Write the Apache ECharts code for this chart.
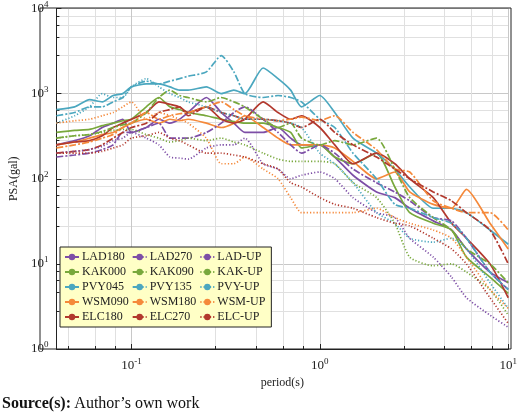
<!DOCTYPE html>
<html><head><meta charset="utf-8">
<script src="https://cdn.jsdelivr.net/npm/echarts@6/dist/echarts.min.js"></script>
<style>html,body{margin:0;background:#fff}#c{width:520px;height:419px}</style></head>
<body><div id="c"></div>
<script>
const P = [0.04,0.05,0.06,0.07,0.08,0.09,0.1,0.12,0.14,0.16,0.18,0.2,0.25,0.3,0.35,0.4,0.5,0.6,0.7,0.8,1,1.2,1.5,2,2.5,3,4,5,6,8,10];
const LAD180 = [250,280,320,400,450,500,350,400,500,450,500,600,900,600,450,350,350,400,300,250,250,180,110,70,60,45,32,25,15,8,6];
const LAD270 = [180,190,200,220,250,350,350,400,450,300,300,300,350,450,600,700,500,350,250,200,250,200,130,90,70,55,35,32,20,8,5];
const LADUP = [200,210,220,240,280,300,350,300,250,180,175,170,230,250,250,300,150,130,100,110,120,100,60,40,35,20,12,7,4,2.5,1.8];
const KAK000 = [350,370,380,420,450,480,500,700,900,700,650,600,550,500,470,450,450,400,350,230,250,180,150,200,80,40,30,25,12,7,4.5];
const KAK090 = [300,320,330,360,400,430,450,600,900,1100,950,900,800,900,800,700,500,400,450,300,250,280,250,300,130,60,35,25,15,10,6];
const KAKUP = [300,320,330,350,370,380,380,330,300,270,280,300,280,300,270,250,200,170,160,160,160,150,90,60,30,12,9.5,10,8,5,2.5];
const PVY045 = [650,700,850,800,950,1000,1200,1300,1300,1200,1100,1100,1200,1000,1100,1000,2000,1500,1100,700,950,600,300,200,130,80,45,45,40,25,17];
const PVY135 = [550,600,700,700,800,900,1200,1400,1300,1400,1500,1600,1800,2800,1800,1000,900,950,900,800,500,400,200,100,50,45,35,30,20,8,5];
const PVYUP = [450,550,700,1000,900,900,1200,1500,1200,1000,900,800,700,600,550,500,500,480,450,400,200,150,90,40,30,20,18,20,15,6,3];
const WSM090 = [250,270,300,330,350,400,450,500,450,500,480,500,450,400,450,550,400,300,250,250,250,230,160,100,120,70,50,45,75,30,15];
const WSM180 = [230,250,270,300,330,400,450,600,500,550,580,600,700,800,650,550,500,480,500,530,480,550,350,220,130,120,55,45,40,40,25];
const WSMUP = [450,480,500,550,600,700,800,500,600,550,500,450,300,150,150,180,130,100,60,40,40,40,40,45,35,30,25,20,12,5,3];
const ELC180 = [250,270,280,320,400,450,500,600,800,750,700,600,700,500,450,500,800,600,500,550,400,250,150,200,150,100,60,30,20,10,4];
const ELC270 = [200,210,220,250,300,350,400,450,600,650,700,550,700,600,550,500,500,480,450,400,500,350,250,180,130,100,70,55,40,25,10];
const ELCUP = [200,200,200,210,230,250,300,320,350,300,280,250,200,200,190,180,150,130,90,80,60,50,45,35,30,28,20,15,10,4,2];

const NAMES = ['LAD180','KAK000','PVY045','WSM090','ELC180','LAD270','KAK090','PVY135','WSM180','ELC270','LAD-UP','KAK-UP','PVY-UP','WSM-UP','ELC-UP'];
const VALS = [LAD180,KAK000,PVY045,WSM090,ELC180,LAD270,KAK090,PVY135,WSM180,ELC270,LADUP,KAKUP,PVYUP,WSMUP,ELCUP];
const COLORS = ['#7d4ea6','#78a83c','#4ba7bf','#f5893a','#b2382d'];
const STYLES = ['solid',[7,2,2,2],[1.2,2]];

const series = VALS.map((v,i)=>({
  name:NAMES[i], type:'line', symbol:'none', smooth:0.2,
  data:P.map((p,j)=>[p,v[j]]),
  lineStyle:{color:COLORS[i%5], width:1.7, type:STYLES[Math.floor(i/5)]},
  itemStyle:{color:COLORS[i%5]}
}));

function powLabel(v){
  const e=Math.round(Math.log10(v));
  if(Math.abs(Math.log10(v)-e)>1e-6) return '';
  return '{b|10}{s|'+e+'}';
}
const rich={b:{fontFamily:'Liberation Serif',fontSize:13,color:'#222'},s:{fontFamily:'Liberation Serif',fontSize:9,color:'#222',verticalAlign:'top',padding:[0,0,8,0]}};
const ch=echarts.init(document.getElementById('c'));
ch.setOption({
  animation:false,
  grid:{left:40,right:9,top:8,bottom:70},
  legend:{orient:'vertical',left:60,top:247,height:80,itemGap:3,itemWidth:14,itemHeight:8,
    backgroundColor:'#ffffc6',borderColor:'#222',borderWidth:1,padding:[4,6,4,4],
    data:NAMES,
    textStyle:{fontFamily:'Liberation Serif',fontSize:12,color:'#222',padding:[0,0,0,-2]}},
  xAxis:{type:'log',min:0.04,max:10,logBase:10,name:'period(s)',nameLocation:'middle',nameGap:26,
    nameTextStyle:{fontFamily:'Liberation Serif',fontSize:12,color:'#222'},
    axisLine:{lineStyle:{color:'#222'}},axisTick:{inside:true,lineStyle:{color:'#222'}},
    minorTick:{show:true},minorSplitLine:{show:true,lineStyle:{color:'#e0e0e0'}},
    splitLine:{show:true,lineStyle:{color:'#c8c8c8'}},
    axisLabel:{formatter:powLabel,rich:rich}},
  yAxis:{type:'log',min:1,max:10000,logBase:10,name:'PSA(gal)',nameLocation:'middle',nameGap:26,
    nameTextStyle:{fontFamily:'Liberation Serif',fontSize:12,color:'#222'},
    axisLine:{show:true,lineStyle:{color:'#222'}},axisTick:{show:true,inside:true,lineStyle:{color:'#222'}},
    minorTick:{show:true},minorSplitLine:{show:true,lineStyle:{color:'#e0e0e0'}},
    splitLine:{show:true,lineStyle:{color:'#c8c8c8'}},
    axisLabel:{formatter:powLabel,rich:rich}},
  graphic:[{type:'text',left:2,top:396,style:{text:'{a|Source(s):} {c|Author’s own work}',
    rich:{a:{fontFamily:'Liberation Serif',fontSize:16,fontWeight:'bold',fill:'#111'},c:{fontFamily:'Liberation Serif',fontSize:16,fill:'#111'}}}},
    {type:'rect',shape:{x:40,y:8,width:471,height:341},style:{fill:'none',stroke:'#222',lineWidth:1},silent:true,z:10}],
  series:series
});
</script></body></html>
